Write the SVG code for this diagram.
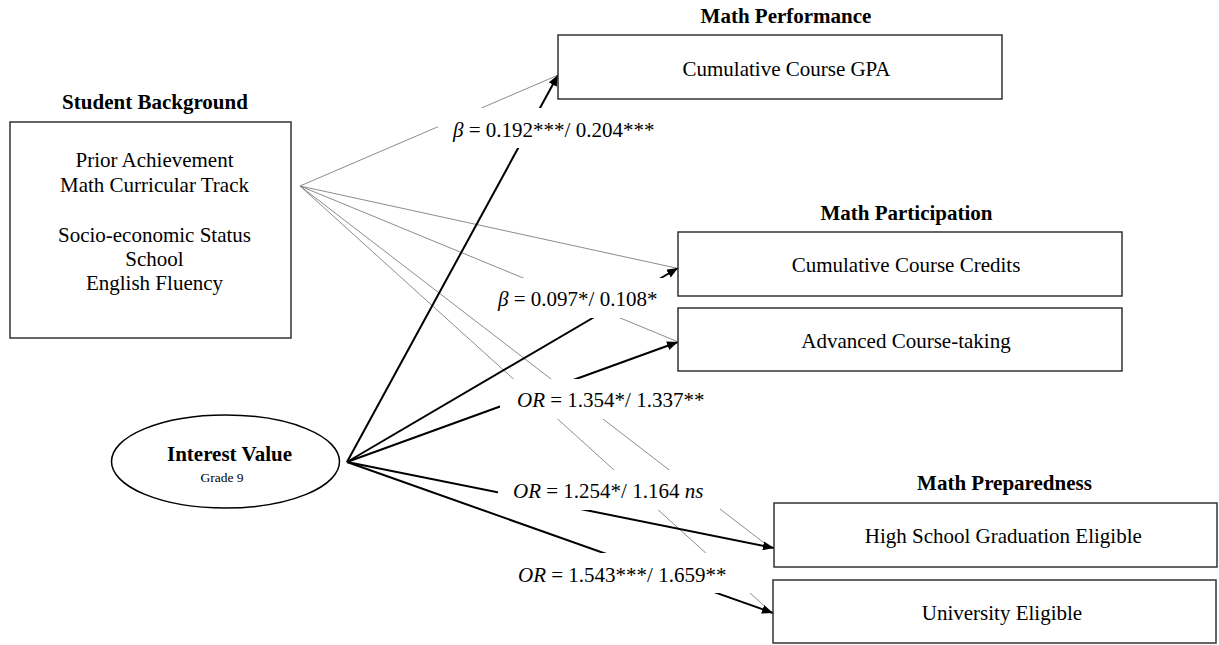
<svg xmlns="http://www.w3.org/2000/svg" width="1219" height="645" viewBox="0 0 1219 645">
<style>
text{font-family:"Liberation Serif","Times New Roman",serif;font-size:21px;fill:#000}
.t{font-weight:bold;text-anchor:middle}
.c{text-anchor:middle}
.i{font-style:italic}
.box{fill:#fff;stroke:#333;stroke-width:1.5}
.g{stroke:#8c8c8c;stroke-width:1;fill:none}
.b{stroke:#000;stroke-width:2;fill:none;marker-end:url(#ah)}
.m{fill:#fff;stroke:none}
</style>
<defs>
<marker id="ah" markerUnits="userSpaceOnUse" markerWidth="11" markerHeight="9" refX="11" refY="4.5" orient="auto" viewBox="0 0 11 9">
<path d="M0,0 L11,4.5 L0,9 z" fill="#000"/>
</marker>
</defs>
<rect width="1219" height="645" fill="#fff"/>
<g id="connectors">
<line class="g" x1="300" y1="186" x2="556" y2="76"/>
<line class="g" x1="300" y1="186" x2="676" y2="268"/>
<line class="g" x1="300" y1="186" x2="676" y2="341"/>
<line class="g" x1="300" y1="186" x2="772" y2="549"/>
<line class="g" x1="300" y1="186" x2="771" y2="612"/>
<line class="b" x1="347" y1="462" x2="558" y2="75"/>
<line class="b" x1="347" y1="462" x2="678" y2="268"/>
<line class="b" x1="347" y1="462" x2="678" y2="342"/>
<line class="b" x1="347" y1="462" x2="774" y2="548"/>
<line class="b" x1="347" y1="462" x2="773" y2="613"/>
</g>
<g id="labels">
<rect class="m" x="438" y="108" width="232" height="40"/>
<text x="453" y="137"><tspan class="i">β</tspan> = 0.192***/ 0.204***</text>
<rect class="m" x="485" y="278" width="185" height="40"/>
<text x="498" y="306"><tspan class="i">β</tspan> = 0.097*/ 0.108*</text>
<rect class="m" x="500" y="379" width="210" height="40"/>
<text x="517" y="407"><tspan class="i">OR</tspan> = 1.354*/ 1.337**</text>
<rect class="m" x="498" y="470" width="222" height="40"/>
<text x="513" y="498"><tspan class="i">OR</tspan> = 1.254*/ 1.164 <tspan class="i">ns</tspan></text>
<rect class="m" x="510" y="553" width="240" height="40"/>
<text x="518" y="582"><tspan class="i">OR</tspan> = 1.543***/ 1.659**</text>
</g>
<g id="student-background">
<text class="t" x="155" y="109">Student Background</text>
<rect class="box" x="10" y="122" width="281" height="216"/>
<text class="c" x="154.5" y="167">Prior Achievement</text>
<text class="c" x="154.5" y="192">Math Curricular Track</text>
<text class="c" x="154.5" y="242">Socio-economic Status</text>
<text class="c" x="154.5" y="266">School</text>
<text class="c" x="154.5" y="290">English Fluency</text>
</g>
<g id="interest-value">
<ellipse cx="225.5" cy="461.5" rx="114" ry="46.5" fill="#fff" stroke="#000" stroke-width="1.5"/>
<text class="t" x="229.5" y="461">Interest Value</text>
<text class="c" x="222" y="482" style="font-size:13.5px">Grade 9</text>
</g>
<g id="math-performance">
<text class="t" x="786" y="23">Math Performance</text>
<rect class="box" x="558" y="35" width="444" height="64"/>
<text class="c" x="786.5" y="76">Cumulative Course GPA</text>
</g>
<g id="math-participation">
<text class="t" x="906.5" y="220">Math Participation</text>
<rect class="box" x="678" y="232" width="444" height="64"/>
<text class="c" x="906" y="272">Cumulative Course Credits</text>
<rect class="box" x="678" y="308" width="444" height="63"/>
<text class="c" x="906" y="348">Advanced Course-taking</text>
</g>
<g id="math-preparedness">
<text class="t" x="1004.5" y="490">Math Preparedness</text>
<rect class="box" x="774" y="503" width="443" height="64"/>
<text class="c" x="1003.3" y="543">High School Graduation Eligible</text>
<rect class="box" x="773" y="580" width="443" height="63"/>
<text class="c" x="1002" y="620">University Eligible</text>
</g>
</svg>
